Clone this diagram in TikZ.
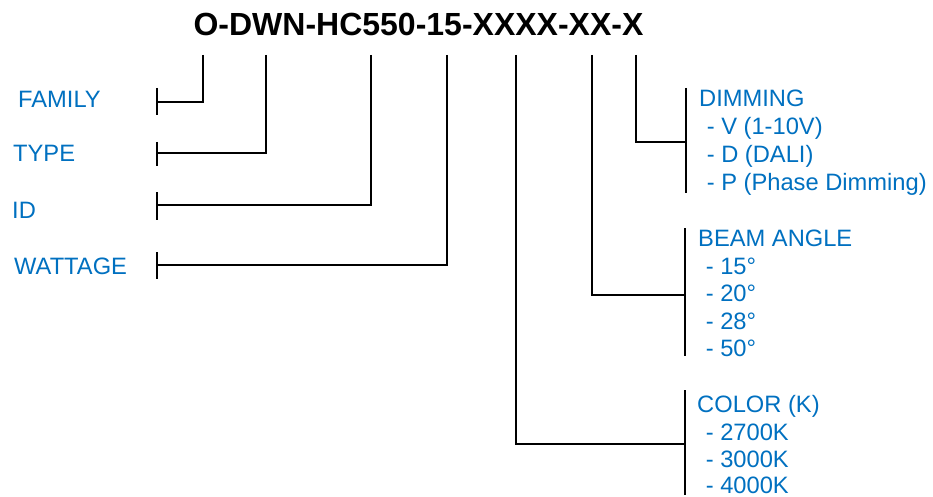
\documentclass[tikz,border=0pt]{standalone}
\usepackage{fontspec}
\setmainfont{Liberation Sans}
\definecolor{lblue}{HTML}{0070C0}
\begin{document}
\begin{tikzpicture}[x=1pt,y=-1pt,
  lbl/.style={anchor=base west,inner sep=0pt,text=lblue,font=\fontsize{23.7}{28}\selectfont},
  wire/.style={line width=2.7pt,line join=miter},
  barline/.style={line width=2.7pt}]
\useasboundingbox (0,0) rectangle (933,497);
% title
\node[anchor=base,inner sep=0pt,font=\fontsize{32}{38}\selectfont\bfseries] (title) at (418.5,36) {O-DWN-HC550-15-XXXX-XX-X};
% taps under title
\coordinate (t1) at (203,55);
\coordinate (t2) at (266,55);
\coordinate (t3) at (371,55);
\coordinate (t4) at (447,55);
\coordinate (t5) at (516,55);
\coordinate (t6) at (592,55);
\coordinate (t7) at (636,55);
% left labels
\node[lbl] (family) at (18,108) {FAMILY};
\node[lbl] (type) at (13,162) {TYPE};
\node[lbl] (id) at (12,218) {ID};
\node[lbl] (watt) at (14,274) {WATTAGE};
% left bars
\coordinate (fam) at (157,102);
\coordinate (typ) at (157,153);
\coordinate (idc) at (157,205);
\coordinate (wat) at (157,265);
\draw[barline] (157,88) -- (157,115);
\draw[barline] (157,142) -- (157,166);
\draw[barline] (157,192) -- (157,220);
\draw[barline] (157,252) -- (157,279);
\draw[wire] (t1) |- (fam);
\draw[wire] (t2) |- (typ);
\draw[wire] (t3) |- (idc);
\draw[wire] (t4) |- (wat);
% right groups
\coordinate (dim) at (686,142);
\coordinate (beam) at (685,295);
\coordinate (col) at (685,444);
\draw[barline] (686,88) -- (686,193);
\draw[barline] (685,228) -- (685,356);
\draw[barline] (685,390) -- (685,495);
\draw[wire] (t7) |- (dim);
\draw[wire] (t6) |- (beam);
\draw[wire] (t5) |- (col);
% dimming text
\node[lbl] (dimh) at (699,107) {DIMMING};
\node[lbl] (dim1) at (700,135) {\ - V (1-10V)};
\node[lbl] (dim2) at (700,163) {\ - D (DALI)};
\node[lbl] (dim3) at (700,190) {\ - P (Phase Dimming)};
% beam text
\node[lbl] (beamh) at (698,246) {BEAM ANGLE};
\node[lbl] (beam1) at (699,274) {\ - 15°};
\node[lbl] (beam2) at (699,301) {\ - 20°};
\node[lbl] (beam3) at (699,329) {\ - 28°};
\node[lbl] (beam4) at (699,356) {\ - 50°};
% color text
\node[lbl] (colh) at (697,412) {COLOR (K)};
\node[lbl] (col1) at (699,440) {\ - 2700K};
\node[lbl] (col2) at (699,467) {\ - 3000K};
\node[lbl] (col3) at (699,493) {\ - 4000K};
\end{tikzpicture}
\end{document}
